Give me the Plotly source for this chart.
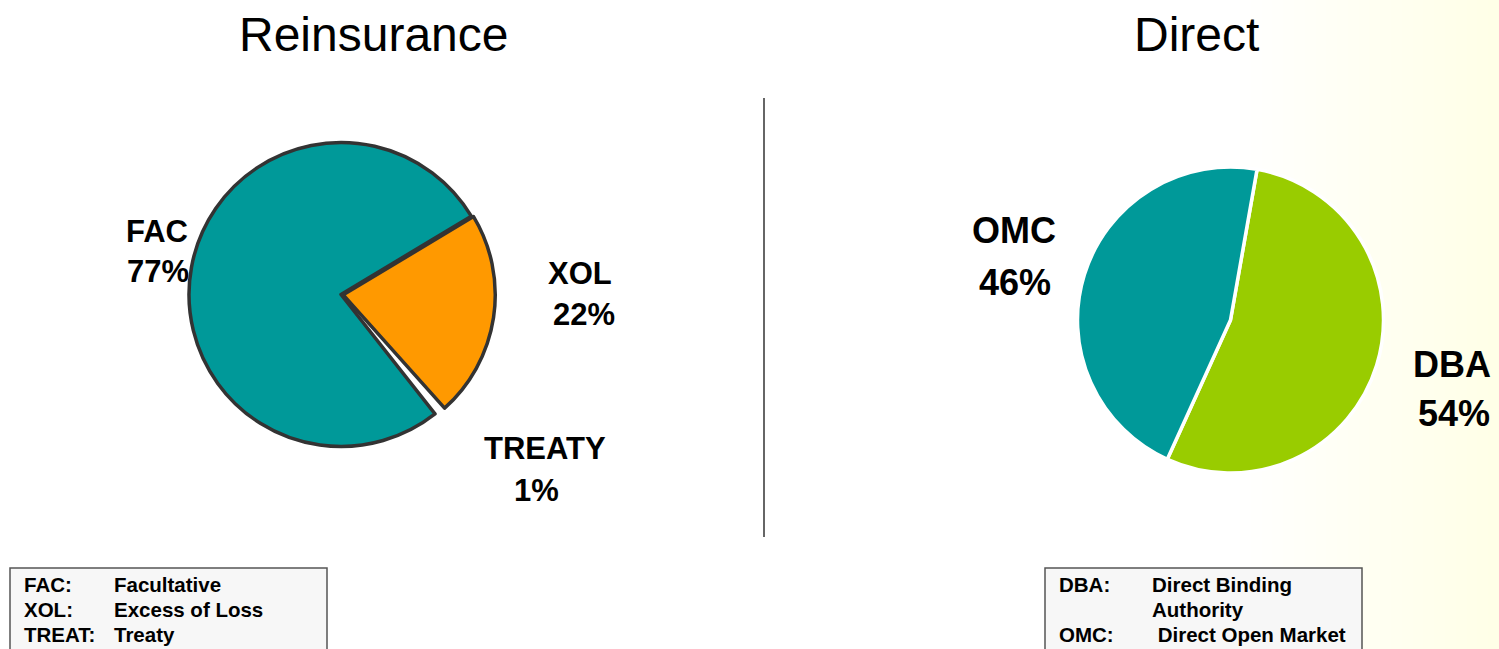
import plotly.graph_objects as go

W, H = 1499, 649

# ---- data ----
reins_title = "Reinsurance"
reins_labels = ["XOL", "TREATY", "FAC"]
reins_values = [22, 1, 77]
reins_colors = ["#FF9900", "rgba(0,0,0,0)", "#009999"]

direct_title = "Direct"
direct_labels = ["DBA", "OMC"]
direct_values = [54, 46]
direct_colors = ["#99CC00", "#009999"]

reins_key_terms = ["FAC:", "XOL:", "TREAT:"]
reins_key_defs = ["Facultative", "Excess of Loss", "Treaty"]
direct_key_terms = ["DBA:", "", "OMC:"]
direct_key_defs = ["Direct Binding", "Authority", " Direct Open Market"]

FONT = "Liberation Sans, Arial, sans-serif"
XOL_PULL = 0.015


def px(x):
    return x / W


def py(y):
    return 1 - y / H


def dom(cx, cy, r):
    return dict(x=[px(cx - r), px(cx + r)], y=[py(cy + r), py(cy - r)])


fig = go.Figure()

fig.add_trace(go.Pie(
    labels=reins_labels, values=reins_values, sort=False, direction="clockwise",
    rotation=59, textinfo="none", hoverinfo="skip", showlegend=False,
    pull=[XOL_PULL, 0, 0],
    marker=dict(colors=reins_colors,
                line=dict(color=["#333333", "rgba(0,0,0,0)", "#333333"], width=[3.5, 0, 3.5])),
    domain=dom(341, 294.5, 152 * (1 + XOL_PULL)),
))

fig.add_trace(go.Pie(
    labels=direct_labels, values=direct_values, sort=False, direction="clockwise",
    rotation=10, textinfo="none", hoverinfo="skip", showlegend=False,
    marker=dict(colors=direct_colors, line=dict(color="white", width=3.5)),
    domain=dom(1230.5, 320, 153),
))

shapes = []
# faint cream gradient on the right edge
N = 24
for i in range(N):
    x0 = 1240 + i * (W - 1240) / N
    shapes.append(dict(type="rect", xref="paper", yref="paper", x0=px(x0), x1=1, y0=0, y1=1,
                       fillcolor="rgba(236,226,190,0.006)", line=dict(width=0), layer="below"))
# divider
shapes.append(dict(type="line", xref="paper", yref="paper", x0=px(764), x1=px(764),
                   y0=py(98), y1=py(537), line=dict(color="#333333", width=1.5)))
# key boxes
shapes.append(dict(type="rect", xref="paper", yref="paper", x0=px(10), x1=px(327),
                   y0=py(652), y1=py(568), fillcolor="#F7F7F7", line=dict(color="#555555", width=1.5)))
shapes.append(dict(type="rect", xref="paper", yref="paper", x0=px(1045), x1=px(1362),
                   y0=py(652), y1=py(568), fillcolor="#F7F7F7", line=dict(color="#555555", width=1.5)))

ann = []


def text(x, y, s, size, bold=True, xanchor="center"):
    ann.append(dict(x=px(x), y=py(y), xref="paper", yref="paper", text=(f"<b>{s}</b>" if bold else s),
                    showarrow=False, xanchor=xanchor, yanchor="middle",
                    font=dict(family=FONT, size=size, color="black")))


# titles
text(373, 34, reins_title, 48, bold=False)
text(1196, 34, direct_title, 48, bold=False)

# slice labels (name line, percent line)
reins_pos = {"FAC": ((157, 232), (158, 271)),
             "XOL": ((580, 274), (584, 314)),
             "TREATY": ((545, 448), (536, 490))}
for lab, val in zip(reins_labels, reins_values):
    (x1, y1), (x2, y2) = reins_pos[lab]
    text(x1, y1, lab, 31)
    text(x2, y2, f"{val}%", 31)

direct_pos = {"OMC": ((1014, 231), (1015, 282)),
              "DBA": ((1452, 364), (1454, 413))}
for lab, val in zip(direct_labels, direct_values):
    (x1, y1), (x2, y2) = direct_pos[lab]
    text(x1, y1, lab, 36)
    text(x2, y2, f"{val}%", 36)

# key text
rows_y = [584, 609, 634]
for t, d, y in zip(reins_key_terms, reins_key_defs, rows_y):
    text(22, y, t, 20.5, xanchor="left")
    text(112, y, d, 20.5, xanchor="left")
for t, d, y in zip(direct_key_terms, direct_key_defs, rows_y):
    if t:
        text(1057, y, t, 20.5, xanchor="left")
    text(1150, y, d, 20.5, xanchor="left")

fig.update_layout(
    width=W, height=H, margin=dict(l=0, r=0, t=0, b=0),
    paper_bgcolor="white", plot_bgcolor="white",
    shapes=shapes, annotations=ann,
)

fig.write_html("out.html", config={"displayModeBar": False},
               post_script="document.body.style.margin='0';document.body.style.overflow='hidden';")
